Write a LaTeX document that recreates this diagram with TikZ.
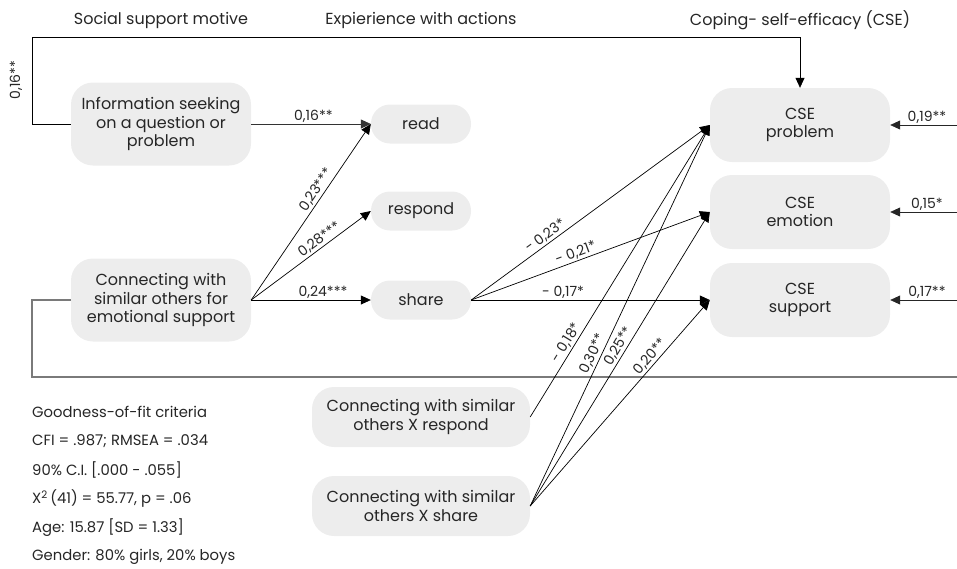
\documentclass[tikz,border=0pt]{standalone}
\usepackage{fontspec}
\setmainfont{Poppins}
\usetikzlibrary{arrows.meta}
\definecolor{boxgray}{HTML}{EDEDED}
\definecolor{txt}{HTML}{262626}
\definecolor{linegray}{HTML}{7A7A7A}
\begin{document}
\begin{tikzpicture}[x=1pt,y=-1pt,
  box/.style={fill=boxgray, rounded corners=22pt, minimum width=180pt, align=center,
    font=\fontsize{16}{18.5}\selectfont, inner sep=0pt, text=txt},
  pill/.style={fill=boxgray, rounded corners=19pt, minimum width=100pt, minimum height=39pt,
    align=center, font=\fontsize{16}{18.5}\selectfont, inner sep=0pt, text=txt},
  ibox/.style={fill=boxgray, rounded corners=22pt, minimum width=218pt, minimum height=60pt,
    align=center, font=\fontsize{16}{18.5}\selectfont, inner sep=0pt, text=txt},
  hdr/.style={font=\fontsize{16}{18}\selectfont, text=txt, inner sep=0pt},
  fit/.style={font=\fontsize{14.8}{16}\selectfont, text=txt, inner sep=0pt, anchor=west},
  arr/.style={-{Triangle[length=10pt,width=9pt]}, line width=0.7pt, draw=black},
  lab/.style={font=\fontsize{14}{15}\selectfont, text=txt, inner sep=1.5pt}
]
\useasboundingbox (0,0) rectangle (957,568);

% headers
\node[hdr] (h1) at (161,20) {Social support motive};
\node[hdr] (h2) at (421,20) {Expierience with actions};
\node[hdr] (h3) at (800,20) {Coping- self-efficacy (CSE)};

% nodes
\node[box, minimum height=83pt] (info) at (161,124) {Information seeking\\on a question or\\problem};
\node[box, minimum height=83pt] (conn) at (161,300) {Connecting with\\similar others for\\emotional support};
\node[pill] (read) at (421,124) {read};
\node[pill] (resp) at (421,211) {respond};
\node[pill] (share) at (421,300) {share};
\node[box, minimum height=74pt] (prob) at (800,125) {CSE\\problem};
\node[box, minimum height=74pt] (emo) at (800,212) {CSE\\emotion};
\node[box, minimum height=74pt] (supp) at (800,300) {CSE\\support};
\node[ibox] (intR) at (421,417) {Connecting with similar\\others X respond};
\node[ibox] (intS) at (421,506) {Connecting with similar\\others X share};

% goodness of fit
\node[fit] (g1) at (32,412) {Goodness-of-fit criteria};
\node[fit] (g2) at (32,441) {CFI = .987; RMSEA = .034};
\node[fit] (g3) at (32,470) {90\% C.I. [.000 - .055]};
\node[fit] (g4) at (32,499) {X\textsuperscript{2}\,(41) = 55.77, p = .06};
\node[fit] (g5) at (32,528) {Age: 15.87 [SD = 1.33]};
\node[fit] (g6) at (32,557) {Gender: 80\% girls, 20\% boys};

% coordinates
\coordinate (tl) at (32,37);
\coordinate (bl) at (32,377);
\coordinate (br) at (957,377);
\coordinate (rp) at (957,125);
\coordinate (re) at (957,212);
\coordinate (rs) at (957,300);

% loops
\draw[arr] (info.west) -| (tl) -| (prob.north);
\node[lab, rotate=90] (l0) at (16,80) {0,16**};
\draw[line width=1.6pt, draw=linegray] (conn.west) -| (bl) -- (br);

% motive -> actions
\draw[arr, draw=black!80] (info.east) -- node[lab, above, pos=0.52] (l1) {0,16**} (read.west);
\draw[arr] (conn.east) -- node[lab, sloped, above, pos=0.6] (l2) {0,23***} (read.west);
\draw[arr] (conn.east) -- node[lab, sloped, above, pos=0.61] (l3) {0,28***} (resp.west);
\draw[arr] (conn.east) -- node[lab, above, pos=0.6] (l4) {0,24***} (share.west);

% actions -> CSE
\draw[arr] (share.east) -- node[lab, sloped, above, pos=0.33] (l5) {- 0,23*} (prob.west);
\draw[arr] (share.east) -- node[lab, sloped, above, pos=0.45] (l6) {- 0,21*} (emo.west);
\draw[arr] (share.east) -- node[lab, above, pos=0.385] (l7) {- 0,17*} (supp.west);

% interactions -> CSE
\draw[arr] (intR.east) -- node[lab, sloped, above, pos=0.24] (l8) {- 0,18*} (prob.west);
\draw[arr] (intS.east) -- node[lab, sloped, above, pos=0.39] (l9) {0,30**} (prob.west);
\draw[arr] (intS.east) -- node[lab, sloped, above, pos=0.53] (l10) {0,25**} (emo.west);
\draw[arr] (intS.east) -- node[lab, sloped, above, pos=0.70] (l11) {0,20**} (supp.west);

% right side covariates
\draw[arr, draw=black!85] (rp) -- node[lab, above, pos=0.45] (l12) {0,19**} (prob.east);
\draw[arr, draw=black!85] (re) -- node[lab, above, pos=0.45] (l13) {0,15*} (emo.east);
\draw[arr, draw=black!85] (rs) -- node[lab, above, pos=0.45] (l14) {0,17**} (supp.east);
\end{tikzpicture}
\end{document}
